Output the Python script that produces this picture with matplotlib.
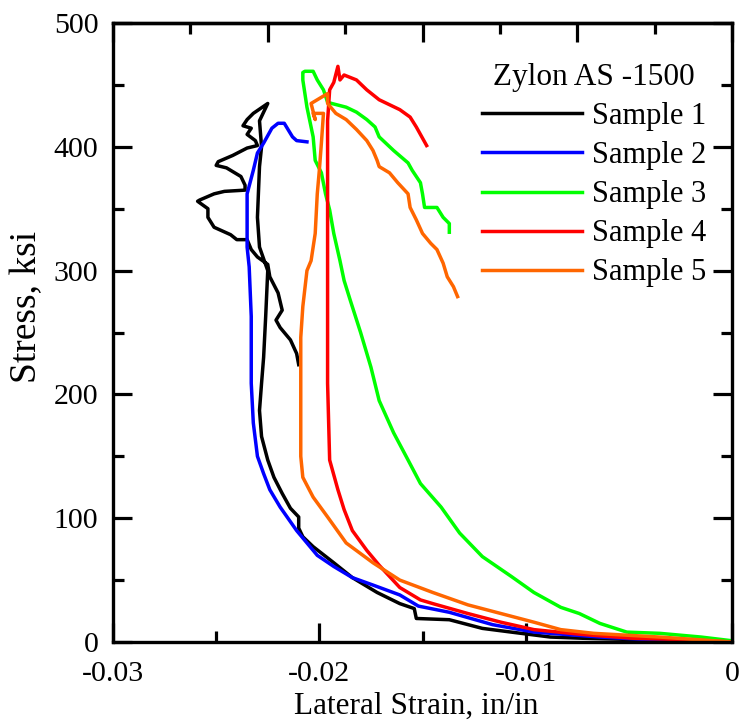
import matplotlib
matplotlib.use("Agg")
import matplotlib.pyplot as plt
from matplotlib.ticker import MultipleLocator

plt.rcParams['font.family'] = ['Liberation Serif', 'DejaVu Serif']

# ---- data (lateral strain in/in, stress ksi) ----
s1_x = [0.0, -0.0015, -0.0048, -0.0072, -0.0088, -0.0107, -0.0121, -0.0137, -0.0153, -0.0154,
        -0.0161, -0.0172, -0.0184, -0.0193, -0.0203, -0.0208, -0.0210, -0.0210, -0.0214, -0.0218,
        -0.0222, -0.0225, -0.0228, -0.0229, -0.0228, -0.0227, -0.0226, -0.0225, -0.0229, -0.0230,
        -0.0229, -0.0228, -0.0229, -0.0225,
        -0.0232, -0.0235, -0.0237, -0.0233, -0.0235, -0.0231, -0.0230, -0.0235, -0.0242, -0.0249,
        -0.0250, -0.0245, -0.0238, -0.0236, -0.0236, -0.0246, -0.0251, -0.0258, -0.0259, -0.0254,
        -0.0254, -0.0251, -0.0243, -0.0240, -0.0235, -0.0233, -0.0230, -0.0225, -0.0224, -0.0220,
        -0.0218, -0.0221, -0.0219, -0.0214, -0.0211, -0.0210]
s1_y = [0, 1, 2, 3, 4, 8, 11, 18, 19, 27,
        31, 40, 52, 64, 77, 85, 92, 101, 108, 120,
        133, 147, 166, 187, 209, 230, 263, 300, 319, 343,
        384, 400, 421, 435,
        427, 422, 417, 415, 410, 405, 401, 399, 393, 388,
        385, 383, 376, 369, 365, 364, 362, 357, 356, 350,
        343, 335, 329, 325, 325, 317, 311, 305, 295, 282,
        268, 260, 254, 244, 233, 224]

s2_x = [0.0, -0.0030, -0.0064, -0.0096, -0.0116, -0.0137, -0.0152, -0.0161, -0.0174, -0.0184,
        -0.0193, -0.0201, -0.0211, -0.0219, -0.0224, -0.0227, -0.0230, -0.0232, -0.0233, -0.0233,
        -0.0234, -0.0235, -0.0235, -0.0232, -0.0230, -0.0227, -0.0223, -0.0220, -0.0217, -0.0213,
        -0.0211, -0.0206]
s2_y = [0, 1, 4, 8, 14, 24, 29, 38, 46, 52,
        61, 70, 90, 109, 123, 136, 150, 177, 209, 263,
        303, 319, 362, 381, 395, 403, 415, 419, 419, 408,
        405, 404]

s3_x = [0.0, -0.0015, -0.0035, -0.0051, -0.0064, -0.0074, -0.0083, -0.0096, -0.0107, -0.0121,
        -0.0132, -0.0141, -0.0151, -0.0157, -0.0164, -0.0171, -0.0175, -0.0180, -0.0185, -0.0188,
        -0.0190, -0.0193, -0.0195, -0.0197, -0.0199, -0.0202, -0.0203, -0.0206, -0.0208, -0.0208,
        -0.0207, -0.0203, -0.0201, -0.0198, -0.0196, -0.0194, -0.0187, -0.0182, -0.0177, -0.0173,
        -0.0171, -0.0164, -0.0157, -0.0155, -0.0151, -0.0150, -0.0149, -0.0143, -0.0140, -0.0137,
        -0.0137]
s3_y = [1, 4, 7, 8, 15, 23, 28, 40, 53, 69,
        88, 109, 128, 147, 169, 195, 222, 250, 276, 292,
        308, 330, 349, 362, 379, 389, 408, 432, 454, 460,
        461, 461, 454, 446, 436, 435, 432, 428, 422, 416,
        408, 397, 387, 381, 371, 362, 351, 351, 343, 338,
        331]

s4_x = [0.0, -0.0025, -0.0048, -0.0072, -0.0096, -0.0112, -0.0128, -0.0145, -0.0151, -0.0161,
        -0.0171, -0.0177, -0.0184, -0.0188, -0.0191, -0.0195, -0.0196, -0.0196, -0.0196, -0.0196,
        -0.0196, -0.0195, -0.0193, -0.0191, -0.0190, -0.0188, -0.0182, -0.0177, -0.0171, -0.0166,
        -0.0161, -0.0156, -0.0153, -0.0150, -0.0148]
s4_y = [0, 2, 3, 6, 10, 16, 23, 31, 34, 44,
        62, 74, 90, 107, 123, 147, 209, 317, 371, 403,
        421, 446, 452, 465, 454, 458, 454, 446, 438, 434,
        430, 424, 416, 407, 401]

s5_x = [0.0, -0.0035, -0.0067, -0.0083, -0.0096, -0.0112, -0.0128, -0.0145, -0.0161, -0.0174,
        -0.0187, -0.0196, -0.0203, -0.0208, -0.0209, -0.0209, -0.0209, -0.0208, -0.0206, -0.0204,
        -0.0202, -0.0201, -0.0200, -0.0199, -0.0198, -0.0203, -0.0202, -0.0204, -0.0201, -0.0199,
        -0.0196, -0.0196, -0.0192, -0.0187, -0.0182, -0.0177, -0.0174, -0.0172, -0.0171, -0.0166,
        -0.0162, -0.0157, -0.0156, -0.0153, -0.0150, -0.0146, -0.0143, -0.0140, -0.0138, -0.0135,
        -0.0133]
s5_y = [0, 4, 7, 10, 16, 23, 30, 40, 50, 64,
        80, 101, 117, 133, 150, 209, 246, 271, 300, 308,
        330, 362, 381, 403, 427, 427, 422, 435, 438, 440,
        443, 435, 427, 422, 414, 405, 397, 389, 384, 379,
        371, 362, 351, 341, 330, 322, 317, 306, 295, 287,
        279]

series = [
    ("Sample 1", s1_x, s1_y, "#000000"),
    ("Sample 2", s2_x, s2_y, "#0000ff"),
    ("Sample 3", s3_x, s3_y, "#00ff00"),
    ("Sample 4", s4_x, s4_y, "#ff0000"),
    ("Sample 5", s5_x, s5_y, "#ff6600"),
]
legend_title = "Zylon AS -1500"
x_ticks = [-0.03, -0.02, -0.01, 0]
x_ticklabels = ["-0.03", "-0.02", "-0.01", "0"]
y_ticks = [0, 100, 200, 300, 400, 500]

fig = plt.figure(figsize=(7.42, 7.24), dpi=100)
ax = fig.add_axes([113/742, 82/724, 619/742, 619/724])

for name, xs, ys, c in series:
    ax.plot(xs, ys, color=c, lw=2.5, label=name, solid_joinstyle='round')

ax.set_xlim(-0.03, 0)
ax.set_ylim(0, 500)
ax.set_xticks(x_ticks)
ax.set_xticklabels(x_ticklabels)
ax.set_yticks(y_ticks)
ax.xaxis.set_minor_locator(MultipleLocator(0.005))
ax.yaxis.set_minor_locator(MultipleLocator(50))
ax.tick_params(which='both', direction='in', labelsize=21.5, width=2.3, right=True)
ax.tick_params(which='major', length=14)
ax.tick_params(which='minor', length=8)
ax.tick_params(axis='x', pad=14)
ax.tick_params(axis='y', pad=10.5)
for sp in ax.spines.values():
    sp.set_linewidth(2.4)

sec = ax.secondary_xaxis('top', functions=(lambda v: (v + 0.03) / 0.0075,
                                            lambda t: t * 0.0075 - 0.03))
sec.set_xticks([0, 1, 2, 3, 4])
sec.xaxis.set_minor_locator(MultipleLocator(0.5))
sec.tick_params(which='both', direction='in', width=2.3, labeltop=False)
sec.tick_params(which='major', length=14)
sec.tick_params(which='minor', length=8)
sec.spines['top'].set_linewidth(2.4)

ax.set_xlabel("Lateral Strain, in/in", fontsize=22.5)
ax.set_ylabel("Stress, ksi", fontsize=27)
ax.xaxis.set_label_coords((416 - 113) / 619, (642 - 692) / 619)
ax.yaxis.set_label_coords((44 - 113) / 619, (642 - 307) / 619)

leg = ax.legend(title=legend_title, frameon=False, fontsize=22, title_fontsize=22.5,
                loc='upper right', bbox_to_anchor=(706/742, 1 - 63/724),
                bbox_transform=fig.transFigure, handlelength=3.27, handletextpad=0.33,
                labelspacing=0.33, borderpad=0, borderaxespad=0)

fig.savefig("out.png", dpi=100)
